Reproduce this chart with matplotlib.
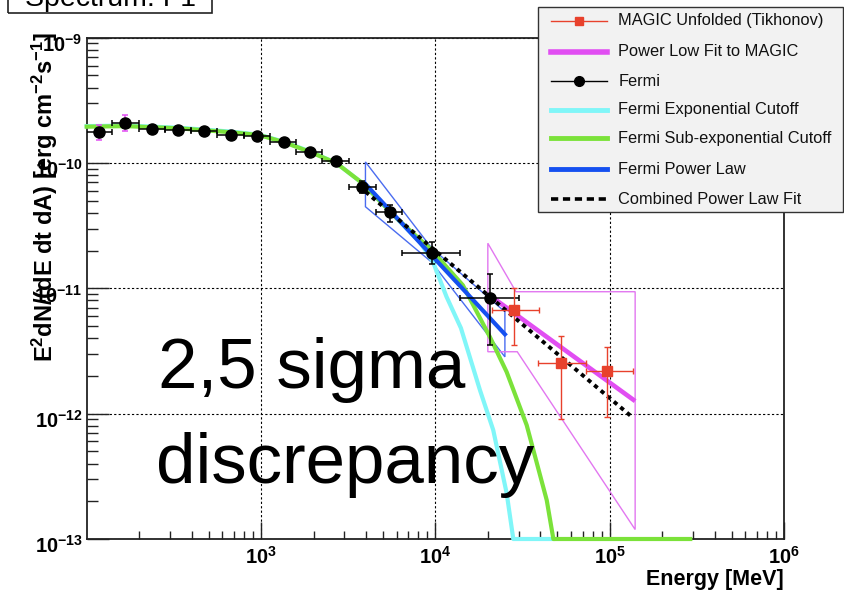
import matplotlib
matplotlib.use('Agg')
import matplotlib.pyplot as plt
import matplotlib.transforms as mtransforms
from matplotlib import font_manager
from matplotlib.ticker import FixedLocator, NullFormatter
from matplotlib.lines import Line2D
from matplotlib.patches import Polygon, Rectangle
import numpy as np

plt.rcParams['font.family'] = ['Liberation Sans', 'DejaVu Sans']
plt.rcParams['mathtext.fontset'] = 'custom'
plt.rcParams['mathtext.rm'] = 'Liberation Sans'
plt.rcParams['mathtext.it'] = 'Liberation Sans:italic'
plt.rcParams['mathtext.bf'] = 'Liberation Sans:bold'
plt.rcParams['mathtext.default'] = 'regular'

_names = {f.name for f in font_manager.fontManager.ttflist}
HAS_NARROW = 'Liberation Sans Narrow' in _names
TICK_FAMILY = ['Liberation Sans Narrow', 'Liberation Sans'] if HAS_NARROW else ['Liberation Sans']
TICK_SIZE = 16 if HAS_NARROW else 14.5

# ---------------- data ----------------
fermi_E = [118, 166, 237, 334, 473, 675, 950, 1346, 1900, 2700, 3820, 5470, 9510, 20560]
fermi_Elo = [99, 140, 200, 282, 398, 562, 794, 1122, 1585, 2239, 3200, 4570, 6450, 13800]
fermi_Ehi = [140, 200, 282, 398, 562, 794, 1122, 1585, 2239, 3200, 4570, 6450, 13800, 30200]
fermi_F = [1.78e-10, 2.07e-10, 1.86e-10, 1.83e-10, 1.80e-10, 1.67e-10, 1.64e-10,
           1.48e-10, 1.22e-10, 1.03e-10, 6.4e-11, 4.05e-11, 1.9e-11, 8.4e-12]
fermi_Flo = [1.53e-10, 1.80e-10, 1.80e-10, 1.77e-10, 1.74e-10, 1.62e-10, 1.58e-10,
             1.42e-10, 1.17e-10, 0.98e-10, 5.73e-11, 3.40e-11, 1.55e-11, 3.52e-12]
fermi_Fhi = [2.01e-10, 2.42e-10, 1.92e-10, 1.89e-10, 1.86e-10, 1.72e-10, 1.70e-10,
             1.54e-10, 1.27e-10, 1.08e-10, 7.14e-11, 4.61e-11, 2.33e-11, 1.30e-11]
n_magenta_yerr = 2   # first Fermi points drawn with magenta vertical error bars

magic_E = [28400, 52600, 97000]
magic_Elo = [21200, 39000, 73300]
magic_Ehi = [39500, 73300, 136000]
magic_F = [6.7e-12, 2.55e-12, 2.2e-12]
magic_Flo = [3.53e-12, 9.0e-13, 9.4e-13]
magic_Fhi = [1.01e-11, 4.19e-12, 3.42e-12]

magic_pl_E = [21000, 140000]
magic_pl_F = [8.57e-12, 1.26e-12]
combined_E = [3980, 134000]
combined_F = [5.9e-11, 9.44e-13]
fermi_pl_E = [3972, 25060]
fermi_pl_F = [6.8e-11, 4.3e-12]

fermi_bow_E = [3972, 9510, 25060, 25060, 9510, 3972]
fermi_bow_F = [1.02e-10, 2.10e-11, 6.5e-12, 2.84e-12, 1.62e-11, 4.48e-11]
magic_bow_E = [20000, 29000, 140000, 140000, 29500, 20000]
magic_bow_F = [2.29e-11, 9.4e-12, 9.4e-12, 1.19e-13, 3.12e-12, 3.12e-12]

subexp_E = [100, 168, 340, 674, 980, 1346, 1900, 2700, 3820, 5980, 9510, 14380,
            20560, 25650, 33420, 43550, 47530, 290000]
subexp_F = [1.95e-10, 1.97e-10, 1.89e-10, 1.76e-10, 1.67e-10, 1.47e-10, 1.23e-10,
            1.0e-10, 6.9e-11, 3.64e-11, 2.02e-11, 1.06e-11, 4.09e-12, 2.15e-12,
            8.1e-13, 2.04e-13, 1.0e-13, 1.0e-13]
expcut_E = [100, 168, 340, 674, 980, 1346, 1900, 2700, 3820, 5980, 8150, 9700,
            11590, 14020, 18030, 21480, 25650, 28000, 47300]
expcut_F = [1.97e-10, 1.99e-10, 1.91e-10, 1.78e-10, 1.68e-10, 1.48e-10, 1.24e-10,
            1.0e-10, 6.9e-11, 3.64e-11, 2.34e-11, 1.62e-11, 8.57e-12, 4.82e-12,
            1.54e-12, 7.4e-13, 2.32e-13, 1.0e-13, 1.0e-13]

legend_labels = ['MAGIC Unfolded (Tikhonov)', 'Power Low Fit to MAGIC', 'Fermi',
                 'Fermi Exponential Cutoff', 'Fermi Sub-exponential Cutoff',
                 'Fermi Power Law', 'Combined Power Law Fit']
x_ticks = [1e3, 1e4, 1e5, 1e6]
x_ticklabels = [r'$10^{3}$', r'$10^{4}$', r'$10^{5}$', r'$10^{6}$']
y_ticks = [1e-13, 1e-12, 1e-11, 1e-10, 1e-9]
y_ticklabels = [r'$10^{-13}$', r'$10^{-12}$', r'$10^{-11}$', r'$10^{-10}$', r'$10^{-9}$']

# ---------------- colours ----------------
RED = '#e8412c'
MAG = '#e14ef2'
MAG_THIN = '#e277f0'
CYAN = '#80f6f8'
GREEN = '#7be23a'
BLUE = '#1550f0'
BLUE_THIN = '#4a6cf0'

W, H = 845, 592
fig = plt.figure(figsize=(W / 100, H / 100), dpi=100)
ax = fig.add_axes([86.7 / W, (H - 539) / H, 697.3 / W, 501.3 / H])
ax.set_xscale('log')
ax.set_yscale('log')
ax.set_xlim(100, 1e6)
ax.set_ylim(1e-13, 1e-9)

# bowties
ax.add_patch(Polygon(np.column_stack([fermi_bow_E, fermi_bow_F]), closed=True,
                     fill=False, edgecolor=BLUE_THIN, lw=1.0, zorder=3))
ax.add_patch(Polygon(np.column_stack([magic_bow_E, magic_bow_F]), closed=True,
                     fill=False, edgecolor=MAG_THIN, lw=1.0, zorder=3))

# model curves
ax.plot(expcut_E, expcut_F, color=CYAN, lw=3.0, zorder=4, clip_on=False,
        solid_joinstyle='round')
ax.plot(subexp_E, subexp_F, color=GREEN, lw=3.0, zorder=4.2, clip_on=False,
        solid_joinstyle='round')
ax.plot(fermi_pl_E, fermi_pl_F, color=BLUE, lw=3.0, zorder=4.4)
ax.plot(combined_E, combined_F, color='black', lw=2.8, ls=(0, (1.1, 1.1)), zorder=4.6)
ax.plot(magic_pl_E, magic_pl_F, color=MAG, lw=3.3, zorder=4.5, solid_capstyle='butt')

# Fermi data
fE = np.array(fermi_E, float)
fF = np.array(fermi_F, float)
xerr = [fE - np.array(fermi_Elo), np.array(fermi_Ehi) - fE]
yerr = [fF - np.array(fermi_Flo), np.array(fermi_Fhi) - fF]
k = n_magenta_yerr
ax.errorbar(fE, fF, xerr=xerr, fmt='none', ecolor='black', elinewidth=1.1,
            capsize=2.5, capthick=1.1, zorder=6)
ax.errorbar(fE[k:], fF[k:], yerr=[yerr[0][k:], yerr[1][k:]], fmt='none',
            ecolor='black', elinewidth=1.1, capsize=2.5, capthick=1.1, zorder=6)
ax.errorbar(fE[:k], fF[:k], yerr=[yerr[0][:k], yerr[1][:k]], fmt='none',
            ecolor=MAG, elinewidth=1.1, capsize=2.5, capthick=1.1, zorder=6)
ax.plot(fE, fF, 'o', color='black', ms=8, zorder=7)

# MAGIC data
mE = np.array(magic_E, float)
mF = np.array(magic_F, float)
ax.errorbar(mE, mF,
            xerr=[mE - np.array(magic_Elo), np.array(magic_Ehi) - mE],
            yerr=[mF - np.array(magic_Flo), np.array(magic_Fhi) - mF],
            fmt='s', color=RED, ms=6.5, ecolor=RED, elinewidth=1.0,
            capsize=2.5, capthick=1.0, zorder=8)

# axes style
ax.xaxis.set_major_locator(FixedLocator(x_ticks))
ax.xaxis.set_ticklabels(x_ticklabels)
ax.yaxis.set_major_locator(FixedLocator(y_ticks))
ax.yaxis.set_ticklabels(y_ticklabels)
ax.xaxis.set_minor_formatter(NullFormatter())
ax.yaxis.set_minor_formatter(NullFormatter())
ax.tick_params(which='both', direction='in', top=False, right=False,
               width=1.0, color='#222222')
ax.tick_params(axis='x', which='major', length=12, pad=5)
ax.tick_params(axis='x', which='minor', length=6)
ax.tick_params(axis='y', which='major', length=16, pad=3)
ax.tick_params(axis='y', which='minor', length=8)
ylab_shift = mtransforms.ScaledTranslation(0, -5 / 100, fig.dpi_scale_trans)
for lab in ax.get_xticklabels() + ax.get_yticklabels():
    lab.set_fontfamily(TICK_FAMILY)
    lab.set_fontsize(TICK_SIZE)
    lab.set_fontweight('bold')
for lab in ax.get_yticklabels():
    lab.set_transform(lab.get_transform() + ylab_shift)
for s in ax.spines.values():
    s.set_linewidth(1.3)
    s.set_color('#222222')
ax.grid(True, which='major', color='black', lw=0.8, ls=(0, (2, 2)))
ax.set_axisbelow(True)

xl = ax.set_xlabel('Energy [MeV]', fontsize=15.5, fontweight='bold', loc='right')
xl.set_va('baseline')
ax.xaxis.set_label_coords(1.0, -0.0915)
ax.set_ylabel(r'E$^{2}$dN/(dE dt dA) [erg cm$^{-2}$s$^{-1}$]', fontsize=17,
              fontweight='bold', loc='top')
ax.yaxis.set_label_coords(-0.039, 1.01)

# annotation
ax.text(0.102, 0.301, '2,5 sigma', fontsize=51, transform=ax.transAxes,
        va='baseline', ha='left', zorder=10)
ax.text(0.100, 0.112, 'discrepancy', fontsize=51, transform=ax.transAxes,
        va='baseline', ha='left', zorder=10)


# legend box (drawn in figure pixels, overlapping the frame as in the reference)
def fx(px):
    return px / W


def fy(py):
    return 1 - py / H


fig.patches.append(Rectangle((fx(538.3), fy(212)), fx(843) - fx(538.3), fy(7.3) - fy(212),
                             transform=fig.transFigure, facecolor='#f2f2f2',
                             edgecolor='#333333', lw=1.0, zorder=20))
legend_rows = [21, 51.7, 81, 110, 138.3, 169.3, 199]
legend_styles = [
    dict(color=RED, lw=1.0, marker='s', ms=6, markevery=[1]),
    dict(color=MAG, lw=4.0),
    dict(color='black', lw=1.0, marker='o', ms=7, markevery=[1]),
    dict(color=CYAN, lw=3.5),
    dict(color=GREEN, lw=3.5),
    dict(color=BLUE, lw=3.5),
    dict(color='black', lw=2.6, ls=(0, (2.0, 1.3))),
]
for row, style, lab in zip(legend_rows, legend_styles, legend_labels):
    fig.add_artist(Line2D([fx(550.7), fx(578.7), fx(606.7)], [fy(row)] * 3,
                          transform=fig.transFigure, zorder=21, **style))
    fig.text(fx(618.3), fy(row), lab, fontsize=11.8, ha='left', va='center',
             color='#111111', zorder=22)

# title box (cut at the top of the picture)
fig.patches.append(Rectangle((fx(8.3), fy(13.3)), fx(212) - fx(8.3), 30 / H,
                             transform=fig.transFigure, fill=False,
                             edgecolor='#222222', lw=1.2))
fig.text(fx(25), fy(6.5), 'Spectrum: F1', fontsize=20.5, ha='left', va='baseline')

fig.savefig('out.png', dpi=100)
